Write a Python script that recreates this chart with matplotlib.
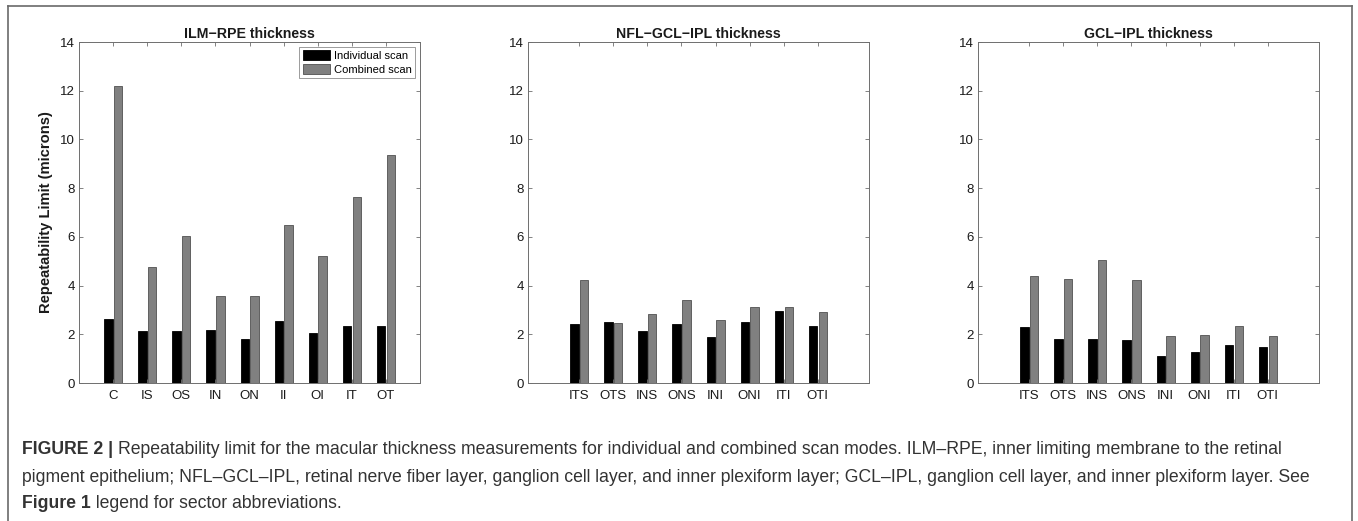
import matplotlib
matplotlib.use("Agg")
import matplotlib.pyplot as plt
from matplotlib.lines import Line2D
from matplotlib.patches import Patch
import numpy as np

plt.rcParams['font.family'] = ['Liberation Sans', 'DejaVu Sans']

# ---- data ----
ilm_labels = ["C", "IS", "OS", "IN", "ON", "II", "OI", "IT", "OT"]
ilm_individual = [2.61, 2.15, 2.14, 2.19, 1.82, 2.55, 2.07, 2.36, 2.36]
ilm_combined = [12.19, 4.77, 6.05, 3.59, 3.59, 6.49, 5.20, 7.64, 9.38]

nfl_labels = ["ITS", "OTS", "INS", "ONS", "INI", "ONI", "ITI", "OTI"]
nfl_individual = [2.43, 2.49, 2.13, 2.43, 1.89, 2.50, 2.95, 2.36]
nfl_combined = [4.21, 2.46, 2.82, 3.41, 2.58, 3.11, 3.13, 2.91]

gcl_labels = ["ITS", "OTS", "INS", "ONS", "INI", "ONI", "ITI", "OTI"]
gcl_individual = [2.28, 1.81, 1.82, 1.77, 1.12, 1.29, 1.54, 1.47]
gcl_combined = [4.39, 4.26, 5.06, 4.21, 1.93, 1.96, 2.34, 1.92]

titles = ["ILM\u2212RPE thickness", "NFL\u2212GCL\u2212IPL thickness", "GCL\u2212IPL thickness"]
series_names = ["Individual scan", "Combined scan"]
yticks = [0, 2, 4, 6, 8, 10, 12, 14]

W, H = 1358, 521
fig = plt.figure(figsize=(W / 100, H / 100), dpi=100)

panels = [
    (ilm_labels, ilm_individual, ilm_combined, 79, (0, 10)),
    (nfl_labels, nfl_individual, nfl_combined, 528, (-0.5, 9.5)),
    (gcl_labels, gcl_individual, gcl_combined, 978, (-0.5, 9.5)),
]

ax_bottom = (H - 383) / H
ax_height = (383 - 42) / H
ax_width = 341 / W
spine_col = "#6e6e6e"
black_col = "#000000"
gray_col = "#808080"

for i, (labels, ind, comb, left_px, xl) in enumerate(panels):
    ax = fig.add_axes([left_px / W, ax_bottom, ax_width, ax_height])
    x = np.arange(1, len(labels) + 1)
    bw = 0.245
    ax.bar(x - 0.14, ind, width=bw, color=black_col, edgecolor="#000000", linewidth=0.6,
           label=series_names[0])
    ax.bar(x + 0.145, comb, width=bw, color=gray_col, edgecolor="#505050", linewidth=0.6,
           label=series_names[1])
    ax.set_xlim(*xl)
    ax.set_ylim(0, 14)
    ax.set_yticks(yticks)
    ax.set_xticks(x)
    ax.set_xticklabels(labels)
    ax.tick_params(direction="in", length=3, width=0.6, colors=spine_col,
                   labelcolor="#1a1a1a", labelsize=9.5, top=True, right=True, pad=3)
    ax.tick_params(axis="x", pad=5)
    for s in ax.spines.values():
        s.set_color(spine_col)
        s.set_linewidth(0.7)
    ax.set_title(titles[i], fontsize=10.2, fontweight="bold", color="#1a1a1a", pad=3)
    if i == 0:
        ax.set_ylabel("Repeatability Limit (microns)", fontsize=10.6, fontweight="bold",
                      color="#1a1a1a", labelpad=5)
        handles = [Patch(facecolor=black_col, edgecolor="#000000", linewidth=0.6),
                   Patch(facecolor=gray_col, edgecolor="#505050", linewidth=0.6)]
        leg = ax.legend(handles, series_names, loc="upper right", fontsize=8.0,
                        frameon=True, fancybox=False, edgecolor=spine_col,
                        borderpad=0.3, handlelength=2.5, handleheight=1.0,
                        handletextpad=0.3, labelspacing=0.25, borderaxespad=0.45)
        leg.get_frame().set_linewidth(0.6)

# outer frame (left, top, right)
frame_col = "#6a6a6a"
fig.add_artist(Line2D([8 / W, 8 / W], [0, 1 - 6 / H], color=frame_col, linewidth=1.2,
                      transform=fig.transFigure))
fig.add_artist(Line2D([8 / W, 1352 / W], [1 - 6 / H, 1 - 6 / H], color=frame_col,
                      linewidth=1.2, transform=fig.transFigure))
fig.add_artist(Line2D([1352 / W, 1352 / W], [0, 1 - 6 / H], color=frame_col, linewidth=1.2,
                      transform=fig.transFigure))

# caption
cap_col = "#333333"
cap_size = 12.7
renderer = fig.canvas.get_renderer()

def rich_line(parts, x_px, y_px):
    xf = x_px / W
    for txt, weight in parts:
        t = fig.text(xf, 1 - y_px / H, txt, fontsize=cap_size, fontweight=weight,
                     color=cap_col, ha="left", va="center")
        bb = t.get_window_extent(renderer=renderer)
        xf = bb.x1 / W

rich_line([("FIGURE 2 | ", "bold"),
           ("Repeatability limit for the macular thickness measurements for individual and combined scan modes. "
            "ILM\u2013RPE, inner limiting membrane to the retinal", "normal")], 22, 450)
rich_line([("pigment epithelium; NFL\u2013GCL\u2013IPL, retinal nerve fiber layer, ganglion cell layer, and inner "
            "plexiform layer; GCL\u2013IPL, ganglion cell layer, and inner plexiform layer. See", "normal")], 22, 478)
rich_line([("Figure 1", "bold"), (" legend for sector abbreviations.", "normal")], 22, 503)

fig.savefig("out.png", dpi=100)
